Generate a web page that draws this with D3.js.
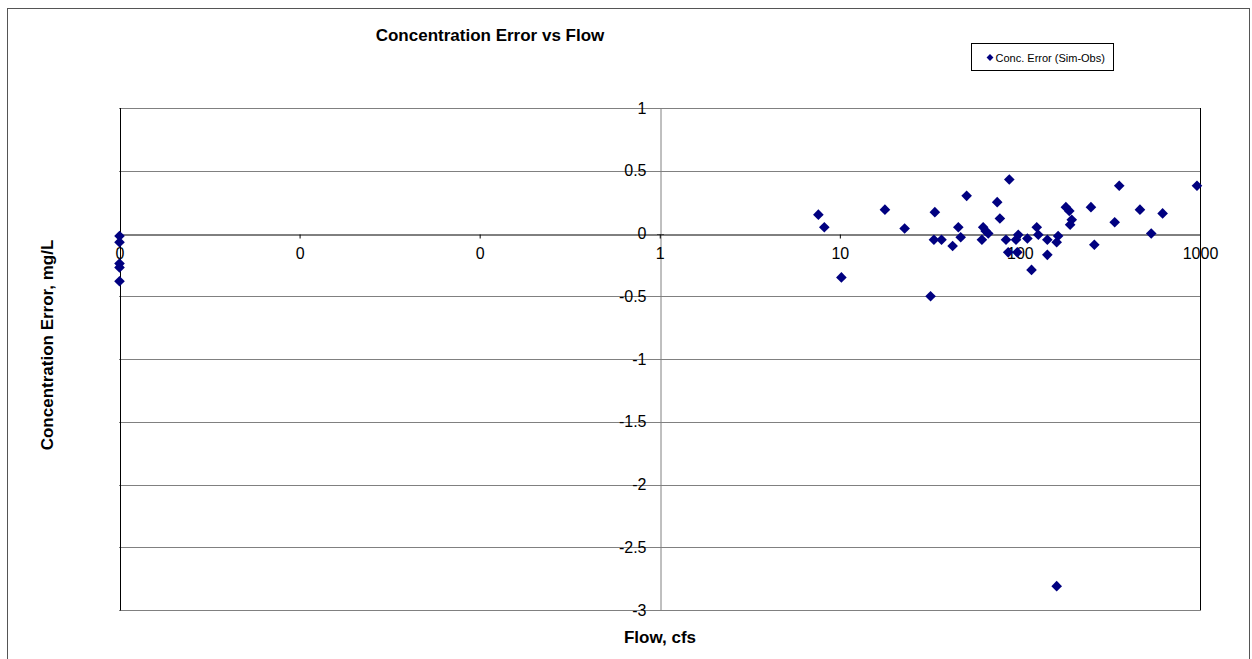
<!DOCTYPE html>
<html><head><meta charset="utf-8">
<script src="https://cdn.jsdelivr.net/npm/d3@7"></script>
<style>body{margin:0;background:#fff;}svg{display:block;font-family:Arial,"Liberation Sans",sans-serif;}</style>
</head><body><svg id="c" width="1252" height="659"></svg>
<script>
// Flow (cfs) and concentration error (mg/L); zero-flow samples drawn at the axis minimum
const flows = [7.6, 8.2, 10.2, 17.8, 22.9, 31.9, 33.7, 33.3, 36.7, 42.3, 45.5, 46.9, 50.6, 62.5, 61.5, 66.7, 64.5,
  74.8, 77.4, 87.3, 83.7, 86.1, 97.9, 95.1, 96.7, 110, 116, 124, 126.5, 142, 142, 163, 160, 180, 188, 194, 190,
  248, 259, 336, 356, 464, 536, 620, 962, 160];
const errors = [0.15, 0.05, -0.35, 0.19, 0.04, -0.5, 0.17, -0.05, -0.05, -0.1, 0.05, -0.03, 0.30, 0.05, -0.05, 0.0, 0.02,
  0.25, 0.12, 0.43, -0.05, -0.15, -0.01, -0.05, -0.15, -0.04, -0.29, 0.05, -0.01, -0.05, -0.17, -0.02, -0.07, 0.21, 0.18, 0.11, 0.07,
  0.21, -0.09, 0.09, 0.38, 0.19, 0.0, 0.16, 0.38, -2.81];
const zeroFlowErrors = [-0.02, -0.07, -0.24, -0.27, -0.38];
const xTicks = [0.001, 0.01, 0.1, 1, 10, 100, 1000];
const xTickLabels = ["0", "0", "0", "1", "10", "100", "1000"];
const yTicks = [1, 0.5, 0, -0.5, -1, -1.5, -2, -2.5, -3];
const title = "Concentration Error vs Flow";
const seriesName = "Conc. Error (Sim-Obs)";
const xTitle = "Flow, cfs";
const yTitle = "Concentration Error, mg/L";

const svg = d3.select("#c");
const FONT = "Arial, 'Liberation Sans', sans-serif";
const L = 119.5, R = 1200, T = 108, B = 610;
const x = d3.scaleLog().domain([0.001, 1000]).range([L, R]);
const y = d3.scaleLinear().domain([-3, 1]).range([B, T]);
const navy = "#000080";

// outer border
svg.append("rect").attr("x", 7.5).attr("y", 8.5).attr("width", 1242).attr("height", 660)
  .attr("fill", "none").attr("stroke", "#555").attr("stroke-width", 1);

// gridlines (dotted) incl. top and bottom borders
svg.append("g").selectAll("line").data(yTicks.filter(d => d !== 0)).join("line")
  .attr("x1", L).attr("x2", R).attr("y1", d => Math.round(y(d)) + 0.5).attr("y2", d => Math.round(y(d)) + 0.5)
  .attr("stroke", "#000").attr("stroke-dasharray", "1,1").attr("stroke-width", 1);
// left and right borders
[L, R].forEach(px => svg.append("line").attr("x1", Math.round(px) + 0.5).attr("x2", Math.round(px) + 0.5)
  .attr("y1", T).attr("y2", B + 0.5).attr("stroke", "#000"));

// y axis at x=1 (gray)
const yAxis = d3.axisLeft(y).tickValues(yTicks).tickSize(0).tickPadding(14).tickFormat(d => d3.format("")(d).replace("−", "-"));
const gy = svg.append("g").attr("transform", `translate(${Math.round(x(1)) + 0.5},0)`).call(yAxis);
gy.select(".domain").attr("stroke", "#808080");
gy.selectAll("text").attr("font-size", 16).attr("fill", "#000").attr("font-family", FONT);
svg.append("g").selectAll("line").data(yTicks).join("line")
  .attr("x1", Math.round(x(1)) - 3).attr("x2", Math.round(x(1)) + 4)
  .attr("y1", d => Math.round(y(d)) + 0.5).attr("y2", d => Math.round(y(d)) + 0.5).attr("stroke", "#808080");

// x axis at y=0
const xAxis = d3.axisBottom(x).tickValues(xTicks).tickSize(4).tickPadding(9)
  .tickFormat((d, i) => xTickLabels[i]);
const gx = svg.append("g").attr("transform", `translate(0,${Math.round(y(0)) + 0.5})`).call(xAxis);
gx.select(".domain").attr("stroke", "#000");
gx.selectAll(".tick line").attr("stroke", "#000");
gx.selectAll("text").attr("font-size", 16).attr("fill", "#000").attr("font-family", FONT);

// points
const diamond = d3.symbol().type(d3.symbolDiamond2).size(72);
const pts = flows.map((f, i) => ({ f, e: errors[i] })).concat(zeroFlowErrors.map(e => ({ f: 0.001, e })));
svg.append("g").selectAll("path").data(pts).join("path")
  .attr("d", diamond).attr("transform", d => `translate(${x(d.f)},${y(d.e)})`).attr("fill", navy);

// titles
svg.append("text").attr("x", 490).attr("y", 41).attr("text-anchor", "middle")
  .attr("font-size", 17).attr("font-weight", "bold").text(title);
svg.append("text").attr("x", 660).attr("y", 643).attr("text-anchor", "middle")
  .attr("font-size", 17).attr("font-weight", "bold").text(xTitle);
svg.append("text").attr("transform", "translate(53,345) rotate(-90)").attr("text-anchor", "middle")
  .attr("font-size", 17).attr("font-weight", "bold").text(yTitle);

// legend
const lg = svg.append("g");
lg.append("rect").attr("x", 971.5).attr("y", 43.5).attr("width", 142).attr("height", 27)
  .attr("fill", "#fff").attr("stroke", "#000");
lg.append("path").attr("d", d3.symbol().type(d3.symbolDiamond2).size(30)).attr("transform", "translate(990,57.5)").attr("fill", navy);
lg.append("text").attr("x", 995.5).attr("y", 61.5).attr("font-size", 11).text(seriesName);
</script></body></html>
